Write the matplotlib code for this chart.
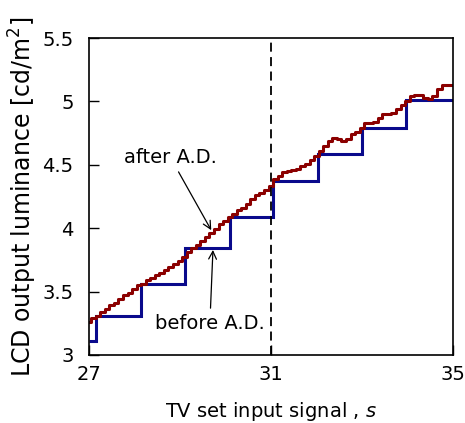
import numpy as np
import matplotlib
matplotlib.use("Agg")
import matplotlib.pyplot as plt

plt.rcParams["font.family"] = ["DejaVu Sans"]

# luminance before A.D. (coarse staircase): step edges and levels
blue_edges = [27.0, 27.15, 28.14, 29.12, 30.10, 31.05, 32.04, 33.00, 33.98, 35.0]
blue_levels = [3.11, 3.31, 3.56, 3.84, 4.09, 4.375, 4.585, 4.79, 5.01]

# luminance after A.D., sampled every 0.1 of the input signal
red_s = np.round(np.arange(27.0, 35.001, 0.1), 1)
red_lum = [
    3.26, 3.29, 3.31, 3.34, 3.36, 3.39, 3.41, 3.44, 3.47, 3.49,
    3.52, 3.55, 3.56, 3.59, 3.61, 3.63, 3.65, 3.67, 3.69, 3.72,
    3.74, 3.77, 3.81, 3.84, 3.87, 3.90, 3.93, 3.96, 3.99, 4.03,
    4.06, 4.09, 4.11, 4.14, 4.16, 4.19, 4.23, 4.26, 4.28, 4.30,
    4.33, 4.39, 4.41, 4.44, 4.45, 4.46, 4.47, 4.49, 4.51, 4.54,
    4.57, 4.61, 4.65, 4.69, 4.71, 4.70, 4.69, 4.70, 4.74, 4.76,
    4.79, 4.83, 4.83, 4.84, 4.87, 4.90, 4.90, 4.91, 4.94, 4.97,
    5.00, 5.04, 5.05, 5.05, 5.03, 5.02, 5.04, 5.10, 5.13, 5.13,
    5.13,
]

x_ticks = [27, 31, 35]
y_ticks = [3, 3.5, 4, 4.5, 5, 5.5]
y_tick_labels = ["3", "3.5", "4", "4.5", "5", "5.5"]

fig = plt.figure(figsize=(4.65, 4.23), dpi=100)
ax = fig.add_axes([0.191, 0.161, 0.783, 0.749])

ax.plot(red_s, red_lum, drawstyle="steps-mid", color="#8b0000", linewidth=2.2)
ax.stairs(blue_levels, blue_edges, baseline=None, color="#0a0a8c", linewidth=2.2)
ax.axvline(31, color="black", linestyle=(0, (5, 3)), linewidth=1.3)

ax.set_xlim(27, 35)
ax.set_ylim(3, 5.5)
ax.set_xticks(x_ticks)
ax.set_xticklabels([str(t) for t in x_ticks])
ax.set_yticks(y_ticks)
ax.set_yticklabels(y_tick_labels)
ax.tick_params(direction="in", length=7, width=1, labelsize=14)
ax.tick_params(axis="x", pad=7)
ax.tick_params(axis="y", pad=11)
for sp in ax.spines.values():
    sp.set_linewidth(1.2)

ax.set_xlabel("TV set input signal , $\\it{s}$", fontsize=14, labelpad=12)
ax.set_ylabel("LCD output luminance [cd/m$^2$]", fontsize=17)
ax.yaxis.set_label_coords(-0.137, 0.5)

arrow = dict(arrowstyle="->", color="black", linewidth=0.9, mutation_scale=14)
ax.annotate("after A.D.", xy=(29.72, 3.965), xytext=(28.79, 4.56),
            fontsize=14, ha="center", va="center", arrowprops=arrow)
ax.annotate("before A.D.", xy=(29.73, 3.85), xytext=(29.66, 3.25),
            fontsize=14, ha="center", va="center", arrowprops=arrow)

fig.savefig("out.png", dpi=100)
